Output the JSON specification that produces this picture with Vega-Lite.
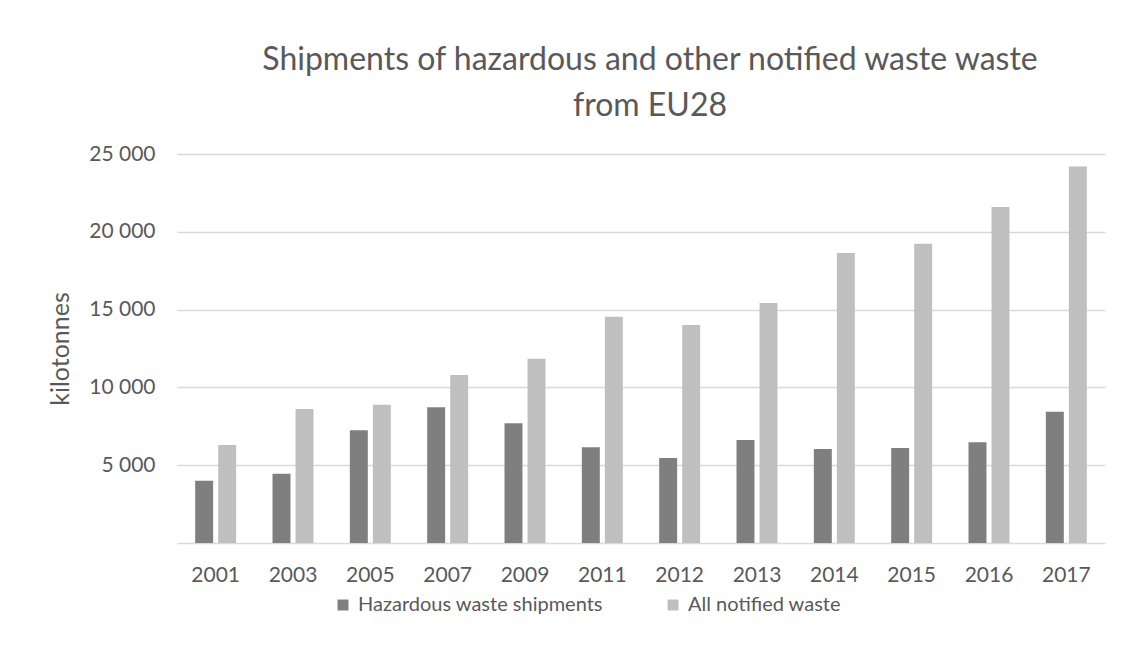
{
  "$schema": "https://vega.github.io/schema/vega-lite/v6.json",
  "autosize": "none",
  "width": 928,
  "height": 389,
  "padding": {"left": 177, "top": 154, "right": 42, "bottom": 116},
  "background": "white",
  "title": {
    "text": ["Shipments of hazardous and other notified waste waste", "from EU28"],
    "font": "Lato",
    "fontSize": 32,
    "fontWeight": "normal",
    "color": "#595959",
    "lineHeight": 46,
    "offset": 20,
    "dx": 9
  },
  "data": {
    "values": [
      {"year": "2001", "series": "Hazardous waste shipments", "value": 4000},
      {"year": "2001", "series": "All notified waste", "value": 6300},
      {"year": "2003", "series": "Hazardous waste shipments", "value": 4450},
      {"year": "2003", "series": "All notified waste", "value": 8610},
      {"year": "2005", "series": "Hazardous waste shipments", "value": 7240},
      {"year": "2005", "series": "All notified waste", "value": 8890},
      {"year": "2007", "series": "Hazardous waste shipments", "value": 8720},
      {"year": "2007", "series": "All notified waste", "value": 10800},
      {"year": "2009", "series": "Hazardous waste shipments", "value": 7690},
      {"year": "2009", "series": "All notified waste", "value": 11840},
      {"year": "2011", "series": "Hazardous waste shipments", "value": 6150},
      {"year": "2011", "series": "All notified waste", "value": 14540},
      {"year": "2012", "series": "Hazardous waste shipments", "value": 5460},
      {"year": "2012", "series": "All notified waste", "value": 14010},
      {"year": "2013", "series": "Hazardous waste shipments", "value": 6620},
      {"year": "2013", "series": "All notified waste", "value": 15420},
      {"year": "2014", "series": "Hazardous waste shipments", "value": 6040},
      {"year": "2014", "series": "All notified waste", "value": 18640},
      {"year": "2015", "series": "Hazardous waste shipments", "value": 6100},
      {"year": "2015", "series": "All notified waste", "value": 19240},
      {"year": "2016", "series": "Hazardous waste shipments", "value": 6470},
      {"year": "2016", "series": "All notified waste", "value": 21590},
      {"year": "2017", "series": "Hazardous waste shipments", "value": 8440},
      {"year": "2017", "series": "All notified waste", "value": 24200}
    ]
  },
  "mark": {"type": "bar"},
  "encoding": {
    "x": {
      "field": "year",
      "type": "nominal",
      "sort": null,
      "scale": {"paddingInner": 0.47, "paddingOuter": 0.235},
      "axis": {
        "title": null,
        "labelAngle": 0,
        "labelFont": "Lato",
        "labelFontSize": 21,
        "labelColor": "#595959",
        "labelPadding": 21,
        "ticks": false,
        "domainColor": "#d9d9d9",
        "domainWidth": 1.5
      }
    },
    "xOffset": {
      "field": "series",
      "type": "nominal",
      "sort": ["Hazardous waste shipments", "All notified waste"],
      "scale": {"paddingInner": 0.22}
    },
    "y": {
      "field": "value",
      "type": "quantitative",
      "scale": {"domain": [0, 25000], "nice": false},
      "axis": {
        "title": "kilotonnes",
        "titleFont": "Lato",
        "titleFontSize": 25,
        "titleFontWeight": "normal",
        "titleColor": "#595959",
        "titlePadding": 15,
        "values": [5000, 10000, 15000, 20000, 25000],
        "labelExpr": "replace(format(datum.value, ','), ',', ' ')",
        "labelFont": "Lato",
        "labelFontSize": 21,
        "labelColor": "#595959",
        "labelPadding": 22,
        "ticks": false,
        "domain": false,
        "gridColor": "#d9d9d9",
        "gridWidth": 1.5
      }
    },
    "color": {
      "field": "series",
      "type": "nominal",
      "sort": ["Hazardous waste shipments", "All notified waste"],
      "scale": {"domain": ["Hazardous waste shipments", "All notified waste"], "range": ["#7f7f7f", "#bfbfbf"]},
      "legend": {
        "title": null,
        "orient": "none",
        "direction": "horizontal",
        "legendX": 156,
        "legendY": 441,
        "symbolType": "square",
        "symbolSize": 120,
        "symbolStrokeWidth": 0,
        "labelFont": "Lato",
        "labelFontSize": 20,
        "labelColor": "#595959",
        "labelOffset": 5,
        "labelLimit": 500,
        "columnPadding": 60
      }
    }
  },
  "config": {
    "view": {"stroke": null}
  }
}
